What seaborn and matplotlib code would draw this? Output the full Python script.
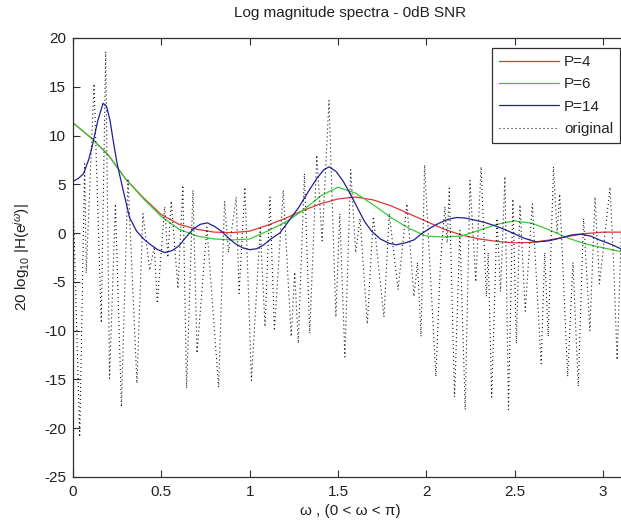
import numpy as np
import pandas as pd
import matplotlib
matplotlib.use("Agg")
import matplotlib.pyplot as plt
import seaborn as sns

# ---------------- data ----------------
x_p4 = [0.0, 0.1, 0.2, 0.3, 0.4, 0.5, 0.6, 0.7, 0.8, 0.9, 1.0, 1.1, 1.2, 1.3, 1.4,
        1.5, 1.6, 1.7, 1.8, 1.9, 2.0, 2.1, 2.2, 2.3, 2.4, 2.5, 2.6, 2.7, 2.8, 2.9,
        3.0, 3.14]
y_p4 = [11.3, 9.8, 8.0, 5.5, 3.6, 1.9, 0.9, 0.4, 0.1, 0.05, 0.2, 0.8, 1.5, 2.3, 3.0,
        3.5, 3.7, 3.4, 2.8, 2.0, 1.2, 0.4, -0.2, -0.6, -0.85, -1.0, -0.95, -0.7, -0.35, -0.05,
        0.1, 0.1]

x_p6 = [0.0, 0.1, 0.2, 0.3, 0.4, 0.5, 0.6, 0.7, 0.8, 0.9, 1.0, 1.1, 1.2, 1.3, 1.4,
        1.5, 1.6, 1.7, 1.8, 1.9, 2.0, 2.1, 2.2, 2.3, 2.4, 2.5, 2.6, 2.7, 2.8, 2.9,
        3.0, 3.1, 3.14]
y_p6 = [11.3, 9.8, 8.0, 5.5, 3.5, 1.7, 0.4, -0.3, -0.6, -0.7, -0.6, 0.2, 1.1, 2.3, 3.8,
        4.7, 4.1, 2.9, 1.6, 0.5, -0.3, -0.4, -0.3, 0.3, 0.9, 1.25, 1.0, 0.3, -0.5, -1.1,
        -1.5, -1.9, -2.0]

x_p14 = [0.0, 0.03, 0.06, 0.09, 0.11, 0.14, 0.17, 0.19, 0.21, 0.23, 0.25, 0.28, 0.32,
         0.36, 0.40, 0.44, 0.48, 0.52, 0.56, 0.60, 0.64, 0.68, 0.72, 0.76, 0.80, 0.84,
         0.88, 0.92, 0.96, 1.00, 1.04, 1.08, 1.12, 1.17, 1.22, 1.28, 1.33, 1.38, 1.42,
         1.45, 1.49, 1.53, 1.57, 1.61, 1.65, 1.69, 1.74, 1.79, 1.83, 1.88, 1.93, 1.97,
         2.02, 2.07, 2.12, 2.17, 2.22, 2.27, 2.33, 2.38, 2.44, 2.49, 2.55, 2.62, 2.69,
         2.76, 2.82, 2.87, 2.93, 2.98, 3.04, 3.10, 3.14]
y_p14 = [5.3, 5.6, 6.1, 7.6, 9.0, 11.5, 13.3, 13.0, 11.5, 9.2, 7.1, 4.7, 1.6,
         0.2, -0.6, -1.2, -1.7, -2.0, -1.8, -1.3, -0.4, 0.4, 0.9, 1.05, 0.7, 0.2,
         -0.5, -1.1, -1.5, -1.7, -1.6, -1.2, -0.6, 0.0, 1.2, 2.7, 4.2, 5.6, 6.5,
         6.8, 6.3, 5.3, 4.0, 2.6, 1.2, 0.2, -0.6, -1.05, -1.2, -1.0, -0.7, -0.1,
         0.5, 1.0, 1.4, 1.6, 1.55, 1.35, 1.1, 0.8, 0.4, 0.0, -0.5, -0.9, -0.8,
         -0.5, -0.2, -0.1, -0.3, -0.7, -1.1, -1.6, -1.8]

x_orig = [0.0, 0.038, 0.066, 0.075, 0.119, 0.160, 0.185, 0.207, 0.240, 0.274, 0.311,
          0.362, 0.396, 0.434, 0.460, 0.477, 0.519, 0.537, 0.556, 0.594, 0.622, 0.643,
          0.679, 0.702, 0.758, 0.824, 0.858, 0.880, 0.924, 0.940, 0.973, 1.010, 1.060,
          1.087, 1.115, 1.140, 1.190, 1.235, 1.255, 1.275, 1.310, 1.340, 1.380, 1.410,
          1.449, 1.488, 1.510, 1.539, 1.572, 1.600, 1.625, 1.666, 1.700, 1.760, 1.790,
          1.840, 1.890, 1.930, 1.950, 1.970, 1.990, 2.054, 2.080, 2.105, 2.118, 2.130,
          2.160, 2.190, 2.220, 2.247, 2.280, 2.310, 2.340, 2.350, 2.370, 2.400, 2.420,
          2.445, 2.465, 2.490, 2.510, 2.530, 2.560, 2.600, 2.650, 2.670, 2.690, 2.720,
          2.740, 2.755, 2.800, 2.830, 2.860, 2.890, 2.926, 2.955, 2.980, 3.040, 3.060,
          3.080, 3.110, 3.140]
y_orig = [4.0, -20.9, 7.1, -4.1, 15.3, -9.2, 18.6, -14.9, 3.0, -17.8, 5.6,
          -15.4, 2.0, -3.8, -1.4, -7.2, 2.7, -2.5, 3.3, -5.7, 4.9, -15.9,
          4.4, -12.3, 0.6, -15.8, 3.3, -2.0, 3.7, -6.2, 4.7, -15.1, 0.5,
          -9.6, 3.7, -10.0, 4.4, -10.6, -4.0, -11.3, 6.1, -10.3, 8.0, -0.8,
          13.6, -8.6, 2.0, -12.7, 6.5, -2.0, 1.5, -9.3, 1.7, -8.6, 2.0,
          -5.8, 3.0, -6.5, -3.0, -10.6, 7.0, -14.7, -3.1, 2.7, -1.0, 4.6,
          -16.8, 0.3, -18.1, 5.4, -5.0, 6.8, -6.5, -2.0, -16.8, 1.5, -6.0,
          5.8, -18.1, 3.5, -11.3, 2.9, -8.0, 3.0, -13.4, -2.0, -10.6, 6.8,
          0.0, 4.0, -14.7, -3.0, -15.7, 1.5, -10.0, 3.7, -5.2, 4.7, -3.0,
          -13.0, 3.5, -2.0]

series_labels = ["P=4", "P=6", "P=14", "original"]
x_ticks = [0, 0.5, 1, 1.5, 2, 2.5, 3]
x_ticklabels = ["0", "0.5", "1", "1.5", "2", "2.5", "3"]
y_ticks = [-25, -20, -15, -10, -5, 0, 5, 10, 15, 20]
y_ticklabels = ["-25", "-20", "-15", "-10", "-5", "0", "5", "10", "15", "20"]

# ---------------- style ----------------
sns.set_style("ticks")
plt.rcParams["font.family"] = ["Liberation Sans", "DejaVu Sans"]
plt.rcParams["axes.unicode_minus"] = False
plt.rcParams["mathtext.fontset"] = "custom"
plt.rcParams["mathtext.rm"] = "Liberation Sans"
plt.rcParams["mathtext.it"] = "Liberation Sans:italic"

FS = 11
W, H = 621, 522
fig = plt.figure(figsize=(W / 100, H / 100), dpi=100)
fig.patch.set_facecolor("white")
# axes extend slightly past the right edge (reference is cropped there)
ax = fig.add_axes([73 / W, (H - 477) / H, 555 / W, 439 / H])

df_p4 = pd.DataFrame({"w": x_p4, "mag": y_p4})
df_p6 = pd.DataFrame({"w": x_p6, "mag": y_p6})
df_p14 = pd.DataFrame({"w": x_p14, "mag": y_p14})
df_orig = pd.DataFrame({"w": x_orig, "mag": y_orig})

lw = 0.9
sns.lineplot(data=df_p4, x="w", y="mag", ax=ax, color="#e03535", lw=lw,
             label=series_labels[0], estimator=None, sort=False)
sns.lineplot(data=df_p6, x="w", y="mag", ax=ax, color="#35cc35", lw=lw,
             label=series_labels[1], estimator=None, sort=False)
sns.lineplot(data=df_p14, x="w", y="mag", ax=ax, color="#1f1f99", lw=lw,
             label=series_labels[2], estimator=None, sort=False)
sns.lineplot(data=df_orig, x="w", y="mag", ax=ax, color="#1a1a1a", lw=0.8,
             linestyle=(0, (1, 2.6)), label=series_labels[3], estimator=None, sort=False)

ax.set_xlim(0, np.pi)
ax.set_ylim(-25, 20)
ax.set_xticks(x_ticks)
ax.set_xticklabels(x_ticklabels)
ax.set_yticks(y_ticks)
ax.set_yticklabels(y_ticklabels)
ax.tick_params(direction="in", length=5, width=0.8, colors="#303030",
               labelsize=FS, top=True, right=True)
ax.tick_params(axis="y", pad=5)
ax.tick_params(axis="x", pad=6)
for lab in ax.get_xticklabels() + ax.get_yticklabels():
    lab.set_color("#202020")
for s in ax.spines.values():
    s.set_visible(True)
    s.set_linewidth(0.9)
    s.set_color("#303030")

ax.set_title("Log magnitude spectra - 0dB SNR", fontsize=FS, pad=15, color="#202020")
ax.set_xlabel("\u03c9 , (0 < \u03c9 < \u03c0)", fontsize=FS, labelpad=3, color="#202020")
ax.set_ylabel(r"20 log$_{10}$ |H(e$^{j\omega}$)|", fontsize=FS, labelpad=9, color="#202020")

leg = ax.legend(loc="upper right", bbox_to_anchor=(620 / W, 1 - 48 / H),
                bbox_transform=fig.transFigure, borderaxespad=0,
                fancybox=False, framealpha=1, edgecolor="#303030",
                fontsize=FS, handlelength=3.9, handletextpad=0.35,
                labelspacing=0.55, borderpad=0.45)
leg.get_frame().set_linewidth(0.9)

fig.savefig("out.png", dpi=100, facecolor="white")
